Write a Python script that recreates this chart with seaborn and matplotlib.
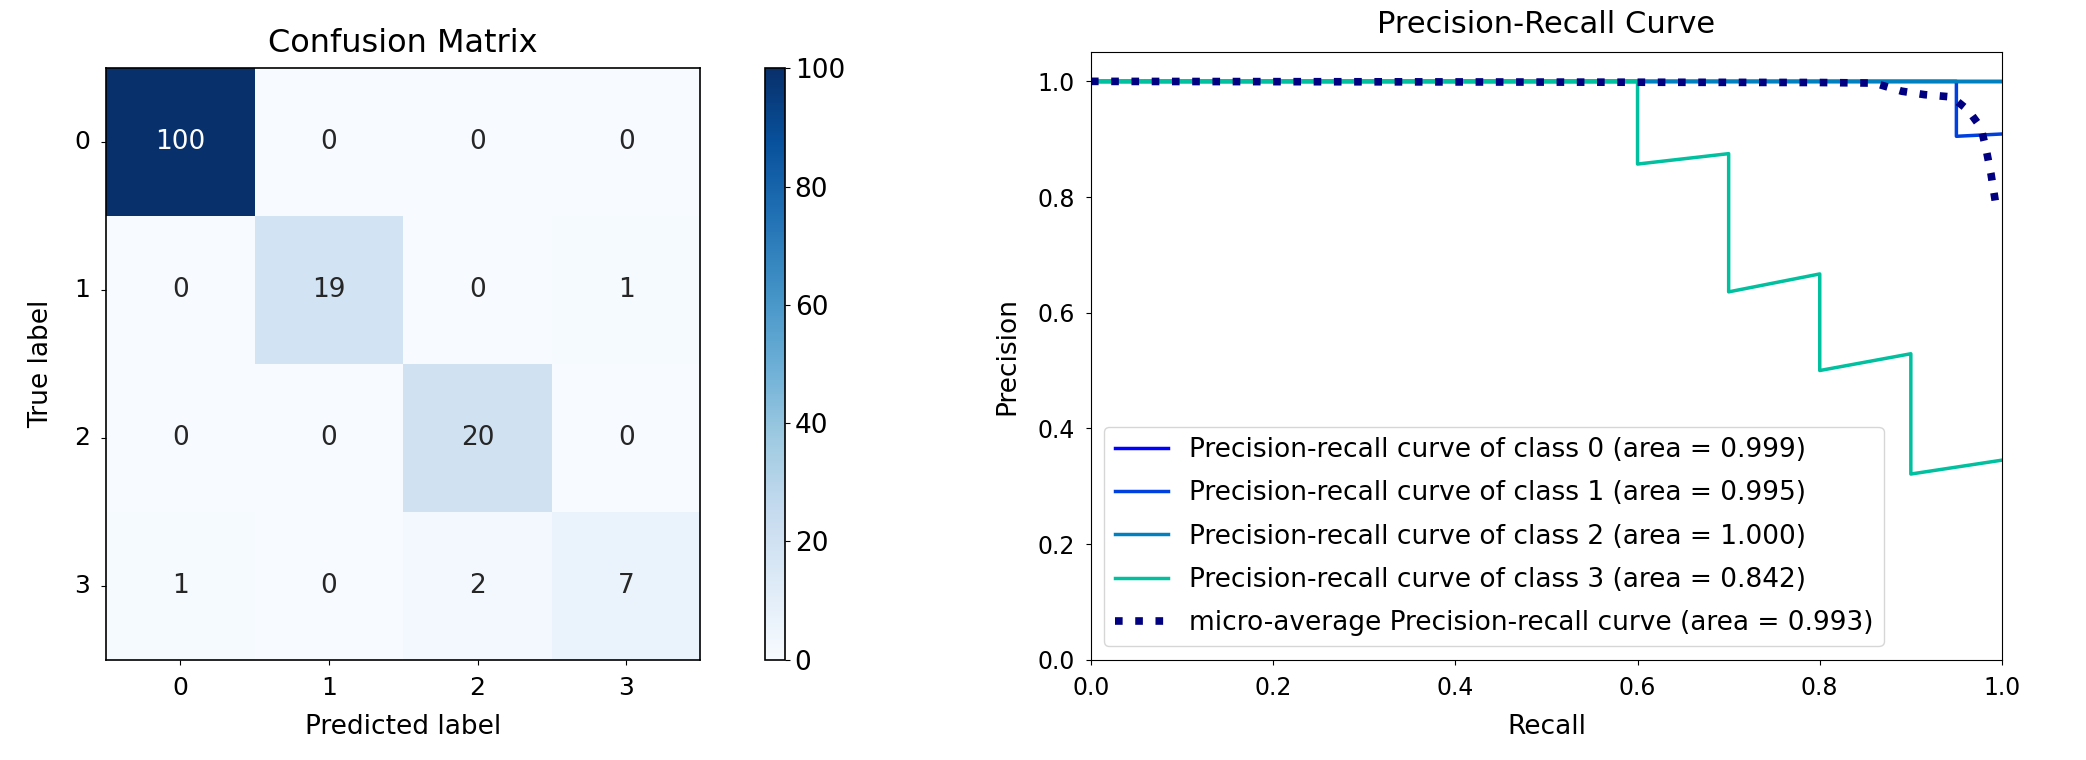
import numpy as np
import pandas as pd
import matplotlib
matplotlib.use("Agg")
import matplotlib.pyplot as plt
import seaborn as sns

# Confusion matrix values
labels = ["0", "1", "2", "3"]
cm = [[100, 0, 0, 0],
      [0, 19, 0, 1],
      [0, 0, 20, 0],
      [1, 0, 2, 7]]

# Precision-recall points (recall, precision)
recall_0 = [0.0, 1.0]
precision_0 = [1.0, 1.0]
recall_1 = [0.0, 0.95, 0.95, 1.0]
precision_1 = [1.0, 1.0, 0.905, 0.909]
recall_2 = [0.0, 1.0]
precision_2 = [1.0, 1.0]
recall_3 = [0.0, 0.6, 0.6, 0.7, 0.7, 0.8, 0.8, 0.9, 0.9, 1.0]
precision_3 = [1.0, 1.0, 0.857, 0.875, 0.636, 0.667, 0.5, 0.529, 0.321, 0.345]
recall_micro = [0.0, 0.80, 0.86, 0.89, 0.915, 0.945, 0.963, 0.977, 0.983, 0.988, 0.993]
precision_micro = [1.0, 0.998, 0.997, 0.983, 0.977, 0.973, 0.95, 0.92, 0.88, 0.84, 0.79]
areas = [0.999, 0.995, 1.000, 0.842]
micro_area = 0.993

plt.rcParams["font.size"] = 19

fig = plt.figure(figsize=(20.86, 7.6), dpi=100)

# Confusion Matrix
ax1 = fig.add_axes([0.0508, 0.132, 0.285, 0.778])
cax = fig.add_axes([0.3667, 0.132, 0.0096, 0.778])
df_cm = pd.DataFrame(cm, index=labels, columns=labels)
sns.heatmap(df_cm, annot=True, fmt="d", cmap="Blues", vmin=0, vmax=100,
            ax=ax1, cbar_ax=cax, annot_kws={"fontsize": 19})
for s in ax1.spines.values():
    s.set_visible(True)
    s.set_linewidth(1.2)
cbar = ax1.collections[0].colorbar
cbar.outline.set_visible(True)
cbar.outline.set_linewidth(1.2)
cax.tick_params(labelsize=19)
ax1.tick_params(labelsize=18, pad=8)
ax1.set_yticklabels(labels, rotation=0)
ax1.set_title("Confusion Matrix", fontsize=23, pad=12)
ax1.set_xlabel("Predicted label", fontsize=19, labelpad=10)
ax1.set_ylabel("True label", fontsize=19, labelpad=14)

# Precision-Recall Curve
ax2 = fig.add_axes([0.523, 0.132, 0.4367, 0.799])
cmap = plt.get_cmap("winter")
curves = [(recall_0, precision_0), (recall_1, precision_1),
          (recall_2, precision_2), (recall_3, precision_3)]
for i, (r, p) in enumerate(curves):
    sns.lineplot(x=r, y=p, sort=False, estimator=None, ax=ax2, lw=2.5,
                 color=cmap(i / 4.0),
                 label=f"Precision-recall curve of class {i} (area = {areas[i]:0.3f})")
sns.lineplot(x=recall_micro, y=precision_micro, sort=False, estimator=None, ax=ax2,
             color="navy", linestyle=":", lw=5.5,
             label=f"micro-average Precision-recall curve (area = {micro_area:0.3f})")
ax2.set_xlim(0.0, 1.0)
ax2.set_ylim(0.0, 1.05)
ax2.tick_params(labelsize=17, pad=8)
ax2.set_title("Precision-Recall Curve", fontsize=22, pad=14)
ax2.set_xlabel("Recall", fontsize=19, labelpad=10)
ax2.set_ylabel("Precision", fontsize=19, labelpad=12)
ax2.legend(loc="lower left", fontsize=19, labelspacing=0.65)

plt.savefig("out.png", dpi=100)
